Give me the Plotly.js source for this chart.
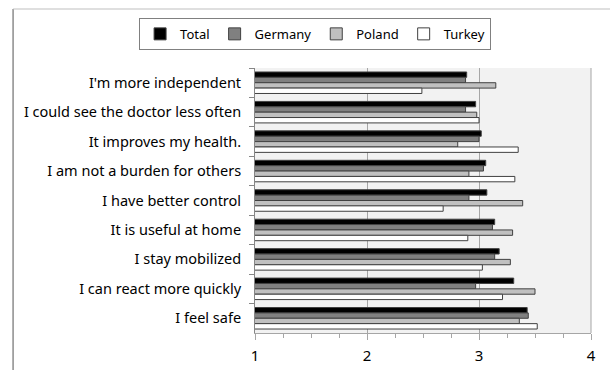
<!DOCTYPE html>
<html>
<head>
<meta charset="utf-8">
<script src="https://cdn.plot.ly/plotly-3.0.1.min.js"></script>
<style>html,body{margin:0;padding:0;background:#fff;}#chart{width:610px;height:370px;}</style>
</head>
<body>
<div id="chart"></div>
<script>
const categories = [
  "I'm more independent",
  "I could see the doctor less often",
  "It improves my health.",
  "I am not a burden for others",
  "I have better control",
  "It is useful at home",
  "I stay mobilized",
  "I can react more quickly",
  "I feel safe"
];
const seriesNames = ["Total", "Germany", "Poland", "Turkey"];
const total   = [2.89, 2.97, 3.02, 3.06, 3.07, 3.14, 3.18, 3.31, 3.43];
const germany = [2.88, 2.88, 3.00, 3.04, 2.91, 3.12, 3.14, 2.97, 3.44];
const poland  = [3.15, 2.98, 2.81, 2.91, 3.39, 3.30, 3.28, 3.50, 3.36];
const turkey  = [2.49, 3.00, 3.35, 3.32, 2.68, 2.90, 3.03, 3.21, 3.52];
const xTicks = [1, 2, 3, 4];

const values = [total, germany, poland, turkey];
const colors = ["#000000", "#808080", "#c0c0c0", "#ffffff"];

const traces = seriesNames.map((name, i) => ({
  type: "bar",
  orientation: "h",
  name: name,
  y: categories,
  x: values[i],
  base: 0,
  marker: { color: colors[i], line: { color: "#404040", width: 1 } }
}));

const font = "Noto Sans, sans-serif";
const layout = {
  width: 610, height: 370,
  margin: { l: 255, r: 19, t: 68, b: 37 },
  paper_bgcolor: "#ffffff",
  plot_bgcolor: "#f2f2f2",
  barmode: "group",
  bargap: 0.27,
  bargroupgap: 0,
  font: { family: font, size: 14, color: "#000" },
  showlegend: true,
  legend: {
    orientation: "h",
    xref: "paper", yref: "paper",
    x: -0.345, xanchor: "left",
    y: 1.189, yanchor: "top",
    bgcolor: "#ffffff",
    bordercolor: "#808080", borderwidth: 1,
    font: { family: font, size: 13 },
    traceorder: "normal",
    tracegroupgap: 0
  },
  xaxis: {
    range: [1, 4],
    tickvals: xTicks,
    ticktext: xTicks.map(String),
    showgrid: true, gridcolor: "#a6a6a6", gridwidth: 1,
    zeroline: false,
    showline: true, linecolor: "#a6a6a6", linewidth: 1,
    ticks: "outside", ticklen: 6, tickcolor: "#a6a6a6",
    minor: { dtick: 0.25, tick0: 1, ticks: "outside", ticklen: 4, tickcolor: "#a6a6a6", showgrid: false },
    tickfont: { family: font, size: 15, color: "#000" },
    ticklabelstandoff: 3,
    fixedrange: true
  },
  yaxis: {
    type: "category",
    autorange: "reversed",
    showgrid: false,
    zeroline: false,
    showline: true, linecolor: "#868686", linewidth: 1,
    ticks: "outside", ticklen: 5, tickcolor: "#868686",
    tickson: "boundaries",
    ticklabelstandoff: 10,
    tickfont: { family: font, size: 14.5, color: "#000" },
    fixedrange: true
  },
  shapes: [
    { type: "line", xref: "paper", yref: "paper", x0: 1, x1: 1, y0: 0, y1: 1, line: { color: "#a6a6a6", width: 1 } },
    { type: "line", xref: "paper", yref: "paper", x0: -0.720, x1: -0.720, y0: -0.15, y1: 1.2226, line: { color: "#8c8c8c", width: 1.5 } },
    { type: "line", xref: "paper", yref: "paper", x0: -0.720, x1: 1.06, y0: 1.2226, y1: 1.2226, line: { color: "#bfbfbf", width: 1 } }
  ]
};

Plotly.newPlot("chart", traces, layout, { staticPlot: true, displayModeBar: false });
</script>
</body>
</html>
